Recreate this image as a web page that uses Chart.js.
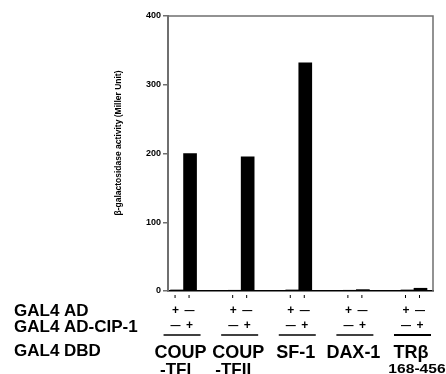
<!DOCTYPE html>
<html lang="en">
<head>
    <meta charset="UTF-8">
    <title>GAL4 two-hybrid assay</title>
    <script src="https://cdn.jsdelivr.net/npm/chart.js"></script>
    <style>
        html, body {
            margin: 0;
            padding: 0;
            background: #fff;
        }
        #wrap {
            position: relative;
            width: 446px;
            height: 374px;
        }
    </style>
</head>
<body>
    <div id="wrap">
        <canvas id="barChart" width="446" height="374"></canvas>
    </div>

    <script>
        // DBD constructs, in order along the x axis
        const categories = ['COUP-TFI', 'COUP-TFII', 'SF-1', 'DAX-1', 'TR\u03b2'];
        const labelLine1 = ['COUP', 'COUP', 'SF-1', 'DAX-1', 'TR\u03b2'];
        const labelLine2 = ['-TFI', '-TFII', '', '', '168-456'];

        // beta-galactosidase activity (Miller units)
        const adValues = [1.5, 0.4, 1.5, 0.3, 1.5];       // GAL4 AD +, AD-CIP-1 -
        const cipValues = [200, 195, 332, 2, 4];          // GAL4 AD -, AD-CIP-1 +

        const yTicks = [0, 100, 200, 300, 400];
        const yTitle = '\u03b2-galactosidase activity (Miller Unit)';
        const rowLabels = ['GAL4 AD', 'GAL4 AD-CIP-1', 'GAL4 DBD'];
        const adSigns = ['+', '\u2014'];
        const cipSigns = ['\u2014', '+'];

        const FONT = '"Liberation Sans", Arial, Helvetica, sans-serif';
        const GREY = '#6f6f6f';

        function drawSign(ctx, s, x, y) {
            ctx.font = (s === '+' ? 'bold 12px ' : 'bold 10px ') + FONT;
            ctx.fillText(s, x, y);
        }

        // frame, y title and the +/- table under the plot
        const tablePlugin = {
            id: 'tablePlugin',
            afterDraw(chart) {
                const ctx = chart.ctx;
                const area = chart.chartArea;
                const xs = chart.scales.x;

                ctx.save();
                // top and right frame
                ctx.strokeStyle = GREY;
                ctx.lineWidth = 1.5;
                ctx.beginPath();
                ctx.moveTo(area.left, area.top);
                ctx.lineTo(area.right, area.top);
                ctx.lineTo(area.right, area.bottom);
                ctx.stroke();

                // y axis title
                ctx.save();
                ctx.translate(119, 143);
                ctx.rotate(-Math.PI / 2);
                ctx.fillStyle = '#000';
                ctx.font = 'bold 8.5px ' + FONT;
                ctx.textAlign = 'center';
                ctx.textBaseline = 'middle';
                ctx.fillText(yTitle, 0, 0);
                ctx.restore();

                // row labels
                ctx.fillStyle = '#000';
                ctx.textAlign = 'left';
                ctx.textBaseline = 'alphabetic';
                ctx.font = 'bold 17px ' + FONT;
                ctx.fillText(rowLabels[0], 14, 316);
                ctx.fillText(rowLabels[1], 14, 332);
                ctx.fillText(rowLabels[2], 14, 356);

                categories.forEach((c, i) => {
                    const cx = xs.getPixelForValue(i);
                    const b1 = cx - 8;
                    const b2 = cx + 6;

                    // little marks under the axis
                    ctx.fillStyle = '#000';
                    ctx.fillRect(b1 - 1, 295, 1, 3);
                    ctx.fillRect(b2 - 1, 295, 1, 3);

                    // + / - signs
                    ctx.textAlign = 'center';
                    ctx.textBaseline = 'middle';
                    drawSign(ctx, adSigns[0], b1, 311);
                    drawSign(ctx, adSigns[1], b2, 311);
                    drawSign(ctx, cipSigns[0], b1, 326);
                    drawSign(ctx, cipSigns[1], b2, 326);

                    // group underline
                    ctx.strokeStyle = '#000';
                    ctx.lineWidth = i === 4 ? 2 : 1.5;
                    ctx.beginPath();
                    ctx.moveTo(cx - 20, 335);
                    ctx.lineTo(cx + 17, 335);
                    ctx.stroke();

                    // DBD name
                    ctx.textBaseline = 'alphabetic';
                    ctx.font = 'bold 18px ' + FONT;
                    ctx.fillText(labelLine1[i], cx - 3, 358);
                    if (labelLine2[i]) {
                        if (i === 4) {
                            ctx.save();
                            ctx.translate(cx + 3, 373);
                            ctx.scale(1.3, 1);
                            ctx.font = 'bold 12px ' + FONT;
                            ctx.fillText(labelLine2[i], 0, 0);
                            ctx.restore();
                        } else {
                            ctx.font = 'bold 17px ' + FONT;
                            ctx.fillText(labelLine2[i], cx - 8, 375);
                        }
                    }
                });
                ctx.restore();
            }
        };

        const ctx = document.getElementById('barChart').getContext('2d');
        new Chart(ctx, {
            type: 'bar',
            data: {
                datasets: [
                    {
                        label: 'GAL4 AD',
                        data: adValues.map((v, i) => ({ x: i, y: v })),
                        backgroundColor: '#000',
                        borderWidth: 0
                    },
                    {
                        label: 'GAL4 AD-CIP-1',
                        data: cipValues.map((v, i) => ({ x: i, y: v })),
                        backgroundColor: '#000',
                        borderWidth: 0
                    }
                ]
            },
            options: {
                responsive: false,
                animation: false,
                barThickness: 13,
                layout: {
                    padding: { left: 0, top: 16, right: 13, bottom: 83 }
                },
                plugins: {
                    legend: { display: false },
                    tooltip: { enabled: false }
                },
                scales: {
                    x: {
                        type: 'linear',
                        offset: false,
                        min: -0.27,
                        max: 4.33,
                        grid: { display: false },
                        ticks: { display: false },
                        border: { display: true, color: '#000', width: 1.5 },
                        afterFit(scale) { scale.height = 0; }
                    },
                    y: {
                        min: 0,
                        max: 400,
                        afterFit(scale) { scale.width = 168; },
                        afterBuildTicks(scale) {
                            scale.ticks = yTicks.map(v => ({ value: v }));
                        },
                        grid: {
                            display: true,
                            drawOnChartArea: false,
                            tickLength: 5,
                            color: GREY,
                            lineWidth: 1.5
                        },
                        border: { display: true, color: GREY, width: 2 },
                        ticks: {
                            color: '#000',
                            padding: 2,
                            font: { family: FONT, size: 9, weight: 'bold' }
                        }
                    }
                }
            },
            plugins: [tablePlugin]
        });
    </script>
</body>
</html>
